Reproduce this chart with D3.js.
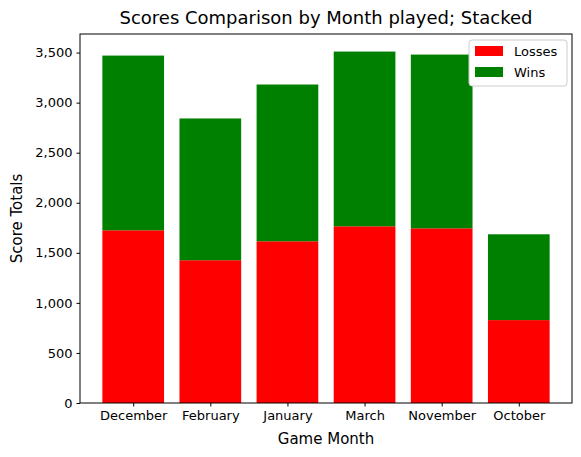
<!DOCTYPE html>
<html><head><meta charset="utf-8">
<script src="https://cdn.jsdelivr.net/npm/d3@7"></script>
<style>body{margin:0;background:#fff}text{font-family:"DejaVu Sans",sans-serif}</style>
</head><body><svg id="chart" width="581" height="457"></svg>
<script>
// Data
const months = ['December', 'February', 'January', 'March', 'November', 'October'];
const losses = [1725, 1426, 1615, 1765, 1745, 828];
const wins = [1745, 1416, 1566, 1745, 1735, 857];
const yTicks = [0, 500, 1000, 1500, 2000, 2500, 3000, 3500];

const svg = d3.select('#chart');
const m = { left: 80, right: 572, top: 34, bottom: 403 };

const x = d3.scaleLinear().domain([-0.69, 5.69]).range([m.left, m.right]);
const totals = losses.map((l, i) => l + wins[i]);
const y = d3.scaleLinear().domain([0, d3.max(totals) * 1.05]).range([m.bottom, m.top]);

// Bars
const g = svg.append('g');
g.selectAll('.loss').data(losses).join('rect')
    .attr('x', (d, i) => x(i - 0.4)).attr('width', x(0.8) - x(0))
    .attr('y', d => y(d)).attr('height', d => y(0) - y(d))
    .attr('fill', '#ff0000');
g.selectAll('.win').data(wins).join('rect')
    .attr('x', (d, i) => x(i - 0.4)).attr('width', x(0.8) - x(0))
    .attr('y', (d, i) => y(d + losses[i])).attr('height', d => y(0) - y(d))
    .attr('fill', '#008000');

// Axes
const xAxis = svg.append('g').attr('transform', `translate(0,${m.bottom})`)
    .call(d3.axisBottom(x).tickValues(d3.range(months.length)).tickFormat(i => months[i]).tickSize(3.5).tickPadding(4));
const yAxis = svg.append('g').attr('transform', `translate(${m.left},0)`)
    .call(d3.axisLeft(y).tickValues(yTicks).tickSize(3.5).tickPadding(4));
[xAxis, yAxis].forEach(a => {
    a.select('.domain').remove();
    a.selectAll('text').attr('font-size', 13).attr('fill', '#000').style('font-family', '"DejaVu Sans"');
    a.selectAll('line').attr('stroke', '#000');
});
svg.append('rect').attr('x', m.left).attr('y', m.top)
    .attr('width', m.right - m.left).attr('height', m.bottom - m.top)
    .attr('fill', 'none').attr('stroke', '#000').attr('stroke-width', 1);

// Titles
svg.append('text').attr('x', (m.left + m.right) / 2).attr('y', 24).attr('text-anchor', 'middle')
    .attr('font-size', 18).text('Scores Comparison by Month played; Stacked');
svg.append('text').attr('x', (m.left + m.right) / 2).attr('y', 444).attr('text-anchor', 'middle')
    .attr('font-size', 15).text('Game Month');
svg.append('text').attr('transform', `translate(22,${(m.top + m.bottom) / 2}) rotate(-90)`)
    .attr('text-anchor', 'middle').attr('font-size', 15).text('Score Totals');

// Legend
const legendItems = [{ label: 'Losses', color: '#ff0000' }, { label: 'Wins', color: '#008000' }];
const lg = svg.append('g').attr('transform', 'translate(469,40)');
lg.append('rect').attr('width', 98).attr('height', 46).attr('rx', 3)
    .attr('fill', '#fff').attr('stroke', '#ccc');
legendItems.forEach((d, i) => {
    lg.append('rect').attr('x', 6).attr('y', 6 + i * 21).attr('width', 28).attr('height', 10).attr('fill', d.color);
    lg.append('text').attr('x', 45).attr('y', 16 + i * 21).attr('font-size', 13).text(d.label);
});
</script></body></html>
